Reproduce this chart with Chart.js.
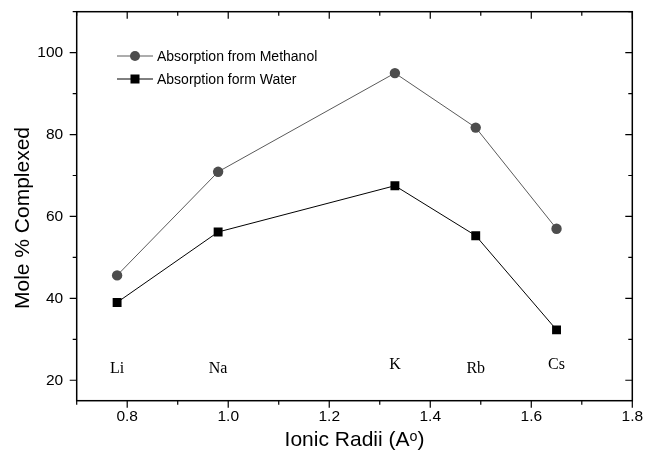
<!DOCTYPE html>
<html lang="en">
<head>
  <meta charset="UTF-8" />
  <title>Mole % Complexed vs Ionic Radii</title>
  <script src="https://cdn.jsdelivr.net/npm/chart.js"></script>
  <style>
    html, body { margin: 0; padding: 0; background: #fff; }
    #wrap { width: 645px; height: 460px; }
  </style>
</head>
<body>
  <div id="wrap"><canvas id="chart"></canvas></div>

  <script>
    // Data
    const elements = ['Li', 'Na', 'K', 'Rb', 'Cs'];
    const ionicRadii = [0.78, 0.98, 1.33, 1.49, 1.65];
    const methanol = [45.6, 70.9, 95.0, 81.7, 57.0];
    const water = [39.0, 56.2, 67.5, 55.3, 32.3];
    const elementLabelY = [22.7, 22.7, 23.7, 22.9, 23.7];
    const xTicks = [0.8, 1.0, 1.2, 1.4, 1.6, 1.8];
    const yTicks = [20, 40, 60, 80, 100];
    const xTitle = 'Ionic Radii (Aᵒ)';
    const yTitle = 'Mole % Complexed';

    const SANS = '"Liberation Sans", Arial, sans-serif';
    const toPoints = vals => ionicRadii.map((r, i) => ({ x: r, y: vals[i] }));

    // frame, mirrored ticks, titles, legend and element labels (Origin style)
    const decor = {
      id: 'decor',
      afterDraw(chart) {
        const ctx = chart.ctx;
        const a = chart.chartArea;
        const xs = chart.scales.x, ys = chart.scales.y;
        ctx.save();
        ctx.strokeStyle = '#000';
        ctx.lineWidth = 1.5;
        ctx.strokeRect(a.left, a.top, a.right - a.left, a.bottom - a.top);

        ctx.lineWidth = 1.2;
        ctx.beginPath();
        for (let k = 7; k <= 18; k++) {
          const px = xs.getPixelForValue(k / 10);
          const len = k % 2 === 0 ? 7 : 4;
          ctx.moveTo(px, a.bottom); ctx.lineTo(px, a.bottom + len);
          ctx.moveTo(px, a.top); ctx.lineTo(px, a.top + len);
        }
        for (let v = 20; v <= 110; v += 10) {
          const py = ys.getPixelForValue(v);
          const len = v % 20 === 0 ? 7 : 4;
          ctx.moveTo(a.left, py); ctx.lineTo(a.left - len, py);
          ctx.moveTo(a.right, py); ctx.lineTo(a.right - len, py);
        }
        ctx.stroke();

        // axis titles
        ctx.fillStyle = '#000';
        ctx.font = '21px ' + SANS;
        ctx.textAlign = 'center';
        ctx.textBaseline = 'middle';
        ctx.fillText(xTitle, (a.left + a.right) / 2, 440);
        ctx.save();
        ctx.translate(23, 218);
        ctx.rotate(-Math.PI / 2);
        ctx.fillText(yTitle, 0, 0);
        ctx.restore();

        // element labels
        ctx.font = '16px "Liberation Serif", "Times New Roman", serif';
        elements.forEach((el, i) => {
          ctx.fillText(el, xs.getPixelForValue(ionicRadii[i]), ys.getPixelForValue(elementLabelY[i]));
        });

        // legend
        ctx.font = '14px ' + SANS;
        ctx.textAlign = 'left';
        chart.data.datasets.forEach((ds, i) => {
          const y = 56 + i * 23;
          ctx.strokeStyle = ds.borderColor;
          ctx.lineWidth = 1;
          ctx.beginPath();
          ctx.moveTo(117, y); ctx.lineTo(153, y);
          ctx.stroke();
          ctx.fillStyle = ds.pointBackgroundColor;
          if (ds.pointStyle === 'circle') {
            ctx.beginPath();
            ctx.arc(135, y, 5, 0, Math.PI * 2);
            ctx.fill();
          } else {
            ctx.fillRect(130.5, y - 4.5, 9, 9);
          }
          ctx.fillStyle = '#000';
          ctx.fillText(ds.label, 157, y + 1);
        });
        ctx.restore();
      }
    };

    new Chart(document.getElementById('chart'), {
      type: 'line',
      data: {
        datasets: [
          {
            label: 'Absorption from Methanol',
            data: toPoints(methanol),
            borderColor: '#5a5a5a',
            borderWidth: 1,
            pointStyle: 'circle',
            pointRadius: 5.2,
            pointBackgroundColor: '#4d4d4d',
            pointBorderColor: '#4d4d4d',
            pointBorderWidth: 0,
            tension: 0
          },
          {
            label: 'Absorption form Water',
            data: toPoints(water),
            borderColor: '#000',
            borderWidth: 1,
            pointStyle: 'rect',
            pointRadius: 6.3,
            pointBackgroundColor: '#000',
            pointBorderColor: '#000',
            pointBorderWidth: 0,
            tension: 0
          }
        ]
      },
      options: {
        responsive: true,
        maintainAspectRatio: false,
        animation: false,
        layout: { padding: { left: 0, right: 12.7, top: 11.7, bottom: 0 } },
        plugins: { legend: { display: false }, tooltip: { enabled: false } },
        scales: {
          x: {
            type: 'linear',
            min: 0.7,
            max: 1.8,
            afterBuildTicks: s => { s.ticks = xTicks.map(v => ({ value: v })); },
            afterFit: s => { s.height = 59.3; s.paddingLeft = 0; s.paddingRight = 0; },
            grid: { display: false, drawTicks: false },
            border: { display: false },
            ticks: {
              padding: 7,
              color: '#000',
              font: { family: SANS, size: 15.5 },
              callback: v => Number(v).toFixed(1)
            }
          },
          y: {
            type: 'linear',
            min: 15,
            max: 110,
            afterBuildTicks: s => { s.ticks = yTicks.map(v => ({ value: v })); },
            afterFit: s => { s.width = 76.7; s.paddingTop = 0; s.paddingBottom = 0; },
            grid: { display: false, drawTicks: false },
            border: { display: false },
            ticks: {
              padding: 13.5,
              color: '#000',
              font: { family: SANS, size: 15.5 }
            }
          }
        }
      },
      plugins: [decor]
    });
  </script>
</body>
</html>
